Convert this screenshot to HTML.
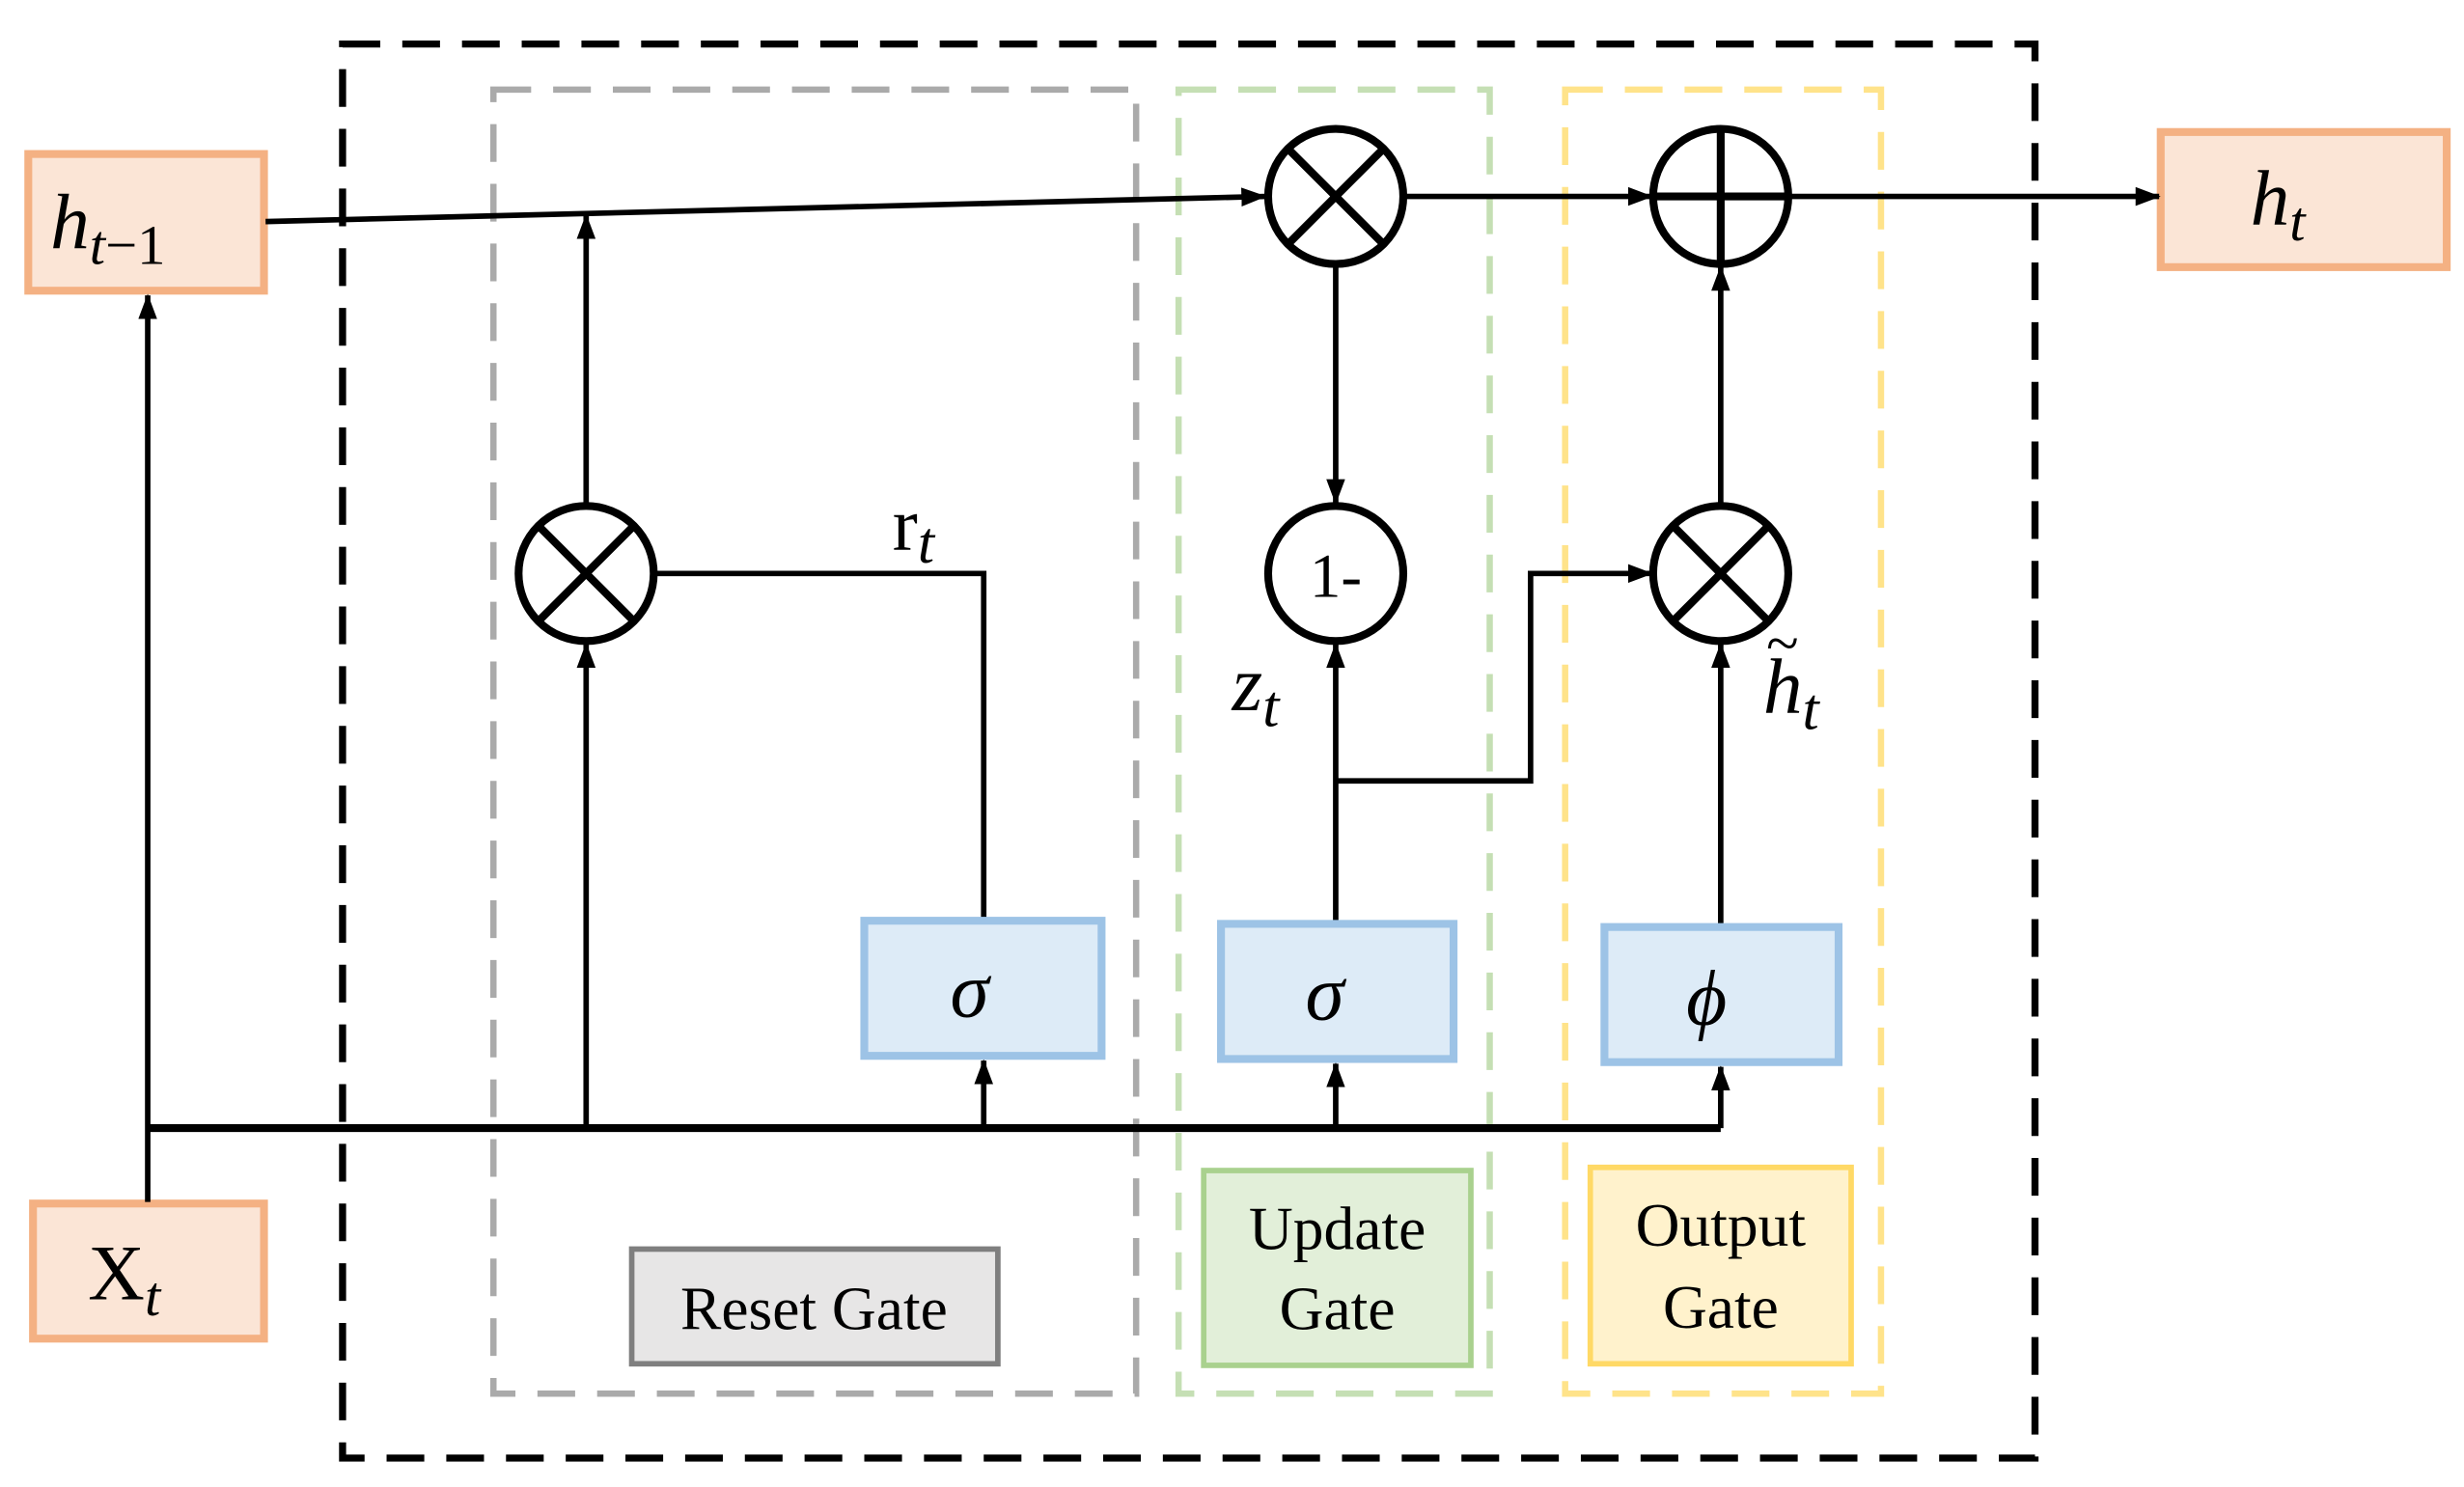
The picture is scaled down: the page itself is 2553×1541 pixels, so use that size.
<!DOCTYPE html>
<html><head><meta charset="utf-8"><style>html,body{margin:0;padding:0;background:#fff}svg{display:block}</style></head>
<body>
<svg width="2553" height="1541" viewBox="0 0 1568 946.4" xmlns="http://www.w3.org/2000/svg" font-family="Liberation Serif, serif">
<defs>
<marker id="b" markerWidth="16" markerHeight="12" refX="15" refY="6" orient="auto" markerUnits="userSpaceOnUse"><path d="M0,0 L16,6 L0,12 z" fill="#000"/></marker>
</defs>
<rect width="1568" height="946.4" fill="#fff"/>
<rect x="218" y="28" width="1077" height="900" fill="none" stroke="#000" stroke-width="4.5" stroke-dasharray="24,14"/>
<rect x="314" y="57" width="409" height="830" fill="none" stroke="#aaa" stroke-width="4" stroke-dasharray="24,14"/>
<rect x="750" y="57" width="198" height="830" fill="none" stroke="#c5dfb4" stroke-width="4" stroke-dasharray="24,14"/>
<rect x="996" y="57" width="201" height="830" fill="none" stroke="#ffe38a" stroke-width="4" stroke-dasharray="24,14"/>
<rect x="18" y="98" width="150" height="87" fill="#fbe5d6" stroke="#f4b183" stroke-width="5"/>
<text x="32" y="158" font-size="50" font-style="italic">h<tspan font-size="36" dy="10">t</tspan><tspan font-size="36" font-style="normal">−1</tspan></text>
<rect x="1375" y="84" width="182" height="86" fill="#fbe5d6" stroke="#f4b183" stroke-width="5"/>
<text x="1432" y="143" font-size="50" font-style="italic">h<tspan font-size="36" dy="10">t</tspan></text>
<rect x="21" y="766" width="147" height="86" fill="#fbe5d6" stroke="#f4b183" stroke-width="5"/>
<text x="56" y="827" font-size="50">X<tspan font-size="36" dy="10" font-style="italic">t</tspan></text>
<g stroke="#000" stroke-width="3.5" fill="none">
<line x1="169" y1="141" x2="805" y2="125" marker-end="url(#b)"/>
<line x1="94" y1="765" x2="94" y2="188" marker-end="url(#b)"/>
<line x1="94" y1="718" x2="1095" y2="718" stroke-width="5"/>
<line x1="373" y1="320" x2="373" y2="137" marker-end="url(#b)"/>
<line x1="373" y1="718" x2="373" y2="410" marker-end="url(#b)"/>
<line x1="626" y1="718" x2="626" y2="675" marker-end="url(#b)"/>
<line x1="850" y1="718" x2="850" y2="677" marker-end="url(#b)"/>
<line x1="1095" y1="718" x2="1095" y2="679" marker-end="url(#b)"/>
<polyline points="417,365 626,365 626,585"/>
<line x1="850" y1="169" x2="850" y2="320" marker-end="url(#b)"/>
<line x1="850" y1="587" x2="850" y2="410" marker-end="url(#b)"/>
<polyline points="850,497 974,497 974,365 1051,365" marker-end="url(#b)"/>
<line x1="1095" y1="589" x2="1095" y2="410" marker-end="url(#b)"/>
<line x1="1095" y1="320" x2="1095" y2="170" marker-end="url(#b)"/>
<line x1="894" y1="125" x2="1051" y2="125" marker-end="url(#b)"/>
<line x1="1139" y1="125" x2="1374" y2="125" marker-end="url(#b)"/>
</g>
<g stroke="#000" stroke-width="5" fill="#fff">
<circle cx="373" cy="365" r="43"/>
<circle cx="850" cy="125" r="43"/>
<circle cx="850" cy="365" r="43"/>
<circle cx="1095" cy="365" r="43"/>
<circle cx="1095" cy="125" r="43"/>
</g>
<g stroke="#000" stroke-width="5">
<line x1="343" y1="335" x2="403" y2="395"/><line x1="403" y1="335" x2="343" y2="395"/>
<line x1="820" y1="95" x2="880" y2="155"/><line x1="880" y1="95" x2="820" y2="155"/>
<line x1="1065" y1="335" x2="1125" y2="395"/><line x1="1125" y1="335" x2="1065" y2="395"/>
<line x1="1095" y1="82" x2="1095" y2="168"/><line x1="1052" y1="125" x2="1138" y2="125"/>
</g>
<text x="850" y="380" font-size="40" text-anchor="middle">1-</text>
<g fill="#ddebf7" stroke="#9dc3e6" stroke-width="5">
<rect x="550" y="586" width="151" height="86"/>
<rect x="777" y="588" width="148" height="86"/>
<rect x="1021" y="590" width="149" height="86"/>
</g>
<text x="617" y="647" font-size="50" font-style="italic" text-anchor="middle">σ</text>
<text x="843" y="649" font-size="50" font-style="italic" text-anchor="middle">σ</text>
<text x="1086" y="652" font-size="50" font-style="italic" text-anchor="middle">ϕ</text>
<text x="568" y="350" font-size="48">r<tspan font-size="38" dy="8" font-style="italic">t</tspan></text>
<text x="784" y="452" font-size="50" font-style="italic">z<tspan font-size="38" dy="10">t</tspan></text>
<text x="1122" y="454" font-size="50" font-style="italic">h<tspan font-size="38" dy="10">t</tspan></text>
<text x="1124" y="422" font-size="38">~</text>
<rect x="402" y="795" width="233" height="73" fill="#e7e6e6" stroke="#7f7f7f" stroke-width="3.5"/>
<text x="518" y="846" font-size="39" text-anchor="middle">Reset Gate</text>
<rect x="766" y="745" width="170" height="124" fill="#e2efd9" stroke="#a9d18e" stroke-width="3.5"/>
<text x="851" y="795" font-size="39" text-anchor="middle">Update</text>
<text x="851" y="846" font-size="39" text-anchor="middle">Gate</text>
<rect x="1012" y="743" width="166" height="125" fill="#fff2cc" stroke="#ffd966" stroke-width="3.5"/>
<text x="1095" y="793" font-size="39" text-anchor="middle">Output</text>
<text x="1095" y="845" font-size="39" text-anchor="middle">Gate</text>
</svg>
</body></html>
